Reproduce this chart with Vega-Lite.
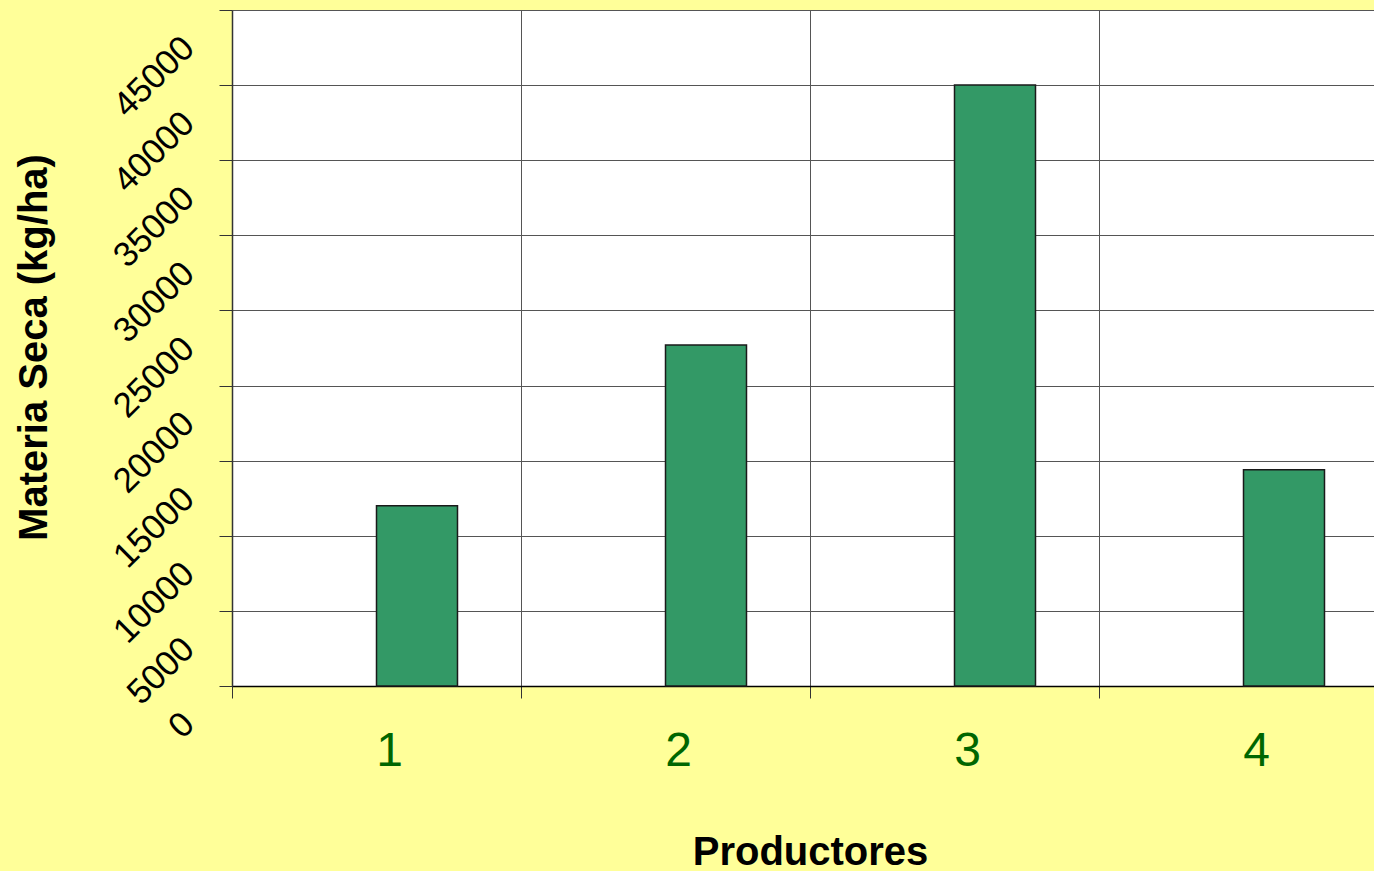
{
  "$schema": "https://vega.github.io/schema/vega-lite/v6.json",
  "autosize": {"type": "none"},
  "padding": {"left": 232, "top": 10, "right": 0, "bottom": 185},
  "width": 1142,
  "height": 676,
  "background": "#FFFF99",
  "config": {
    "view": {"fill": "#FFFFFF", "stroke": null},
    "font": "Liberation Sans"
  },
  "data": {
    "values": [
      {"productor": "1", "serie": "b", "materia_seca": 12000},
      {"productor": "2", "serie": "b", "materia_seca": 22700},
      {"productor": "3", "serie": "b", "materia_seca": 40000},
      {"productor": "4", "serie": "b", "materia_seca": 14400}
    ]
  },
  "mark": {"type": "bar", "fill": "#339966", "stroke": "#1a1a1a", "strokeWidth": 1.5},
  "encoding": {
    "x": {
      "field": "productor",
      "type": "nominal",
      "scale": {"paddingInner": 0, "paddingOuter": 0, "range": [0, 1156]},
      "axis": {
        "title": "Productores",
        "titleFont": "Liberation Sans",
        "titleFontSize": 40,
        "titleFontWeight": "bold",
        "titleColor": "#000000",
        "titleX": 578,
        "titleY": 178,
        "titleBaseline": "alphabetic",
        "titleAlign": "center",
        "labelAngle": 0,
        "labelFontSize": 48,
        "labelColor": "#006600",
        "labelBaseline": "alphabetic",
        "labelAlign": "center",
        "labelPadding": 67,
        "labelOffset": 13,
        "bandPosition": 0,
        "grid": true,
        "gridColor": "#555555",
        "gridWidth": 1,
        "tickColor": "#333333",
        "tickSize": 12,
        "domainColor": "#000000",
        "domainWidth": 1.5
      }
    },
    "xOffset": {
      "field": "serie",
      "type": "nominal",
      "scale": {"domain": ["a", "b"], "paddingInner": 0, "paddingOuter": 0.784}
    },
    "y": {
      "field": "materia_seca",
      "type": "quantitative",
      "scale": {"domain": [0, 45000], "nice": false},
      "axis": {
        "title": "Materia Seca (kg/ha)",
        "titleFont": "Liberation Sans",
        "titleFontSize": 40,
        "titleFontWeight": "bold",
        "titleColor": "#000000",
        "titleX": -198,
        "titleY": 337,
        "titleAngle": -90,
        "titleAlign": "center",
        "titleBaseline": "middle",
        "values": [0, 5000, 10000, 15000, 20000, 25000, 30000, 35000, 40000, 45000],
        "format": "d",
        "labelAngle": -45,
        "labelAlign": "right",
        "labelBaseline": "middle",
        "labelFontSize": 35,
        "labelColor": "#000000",
        "labelPadding": 31,
        "labelOffset": 32,
        "labelOverlap": false,
        "labelBound": false,
        "grid": true,
        "gridColor": "#555555",
        "gridWidth": 1,
        "tickColor": "#333333",
        "tickSize": 13,
        "domainColor": "#333333",
        "domainWidth": 1.5
      }
    }
  }
}
